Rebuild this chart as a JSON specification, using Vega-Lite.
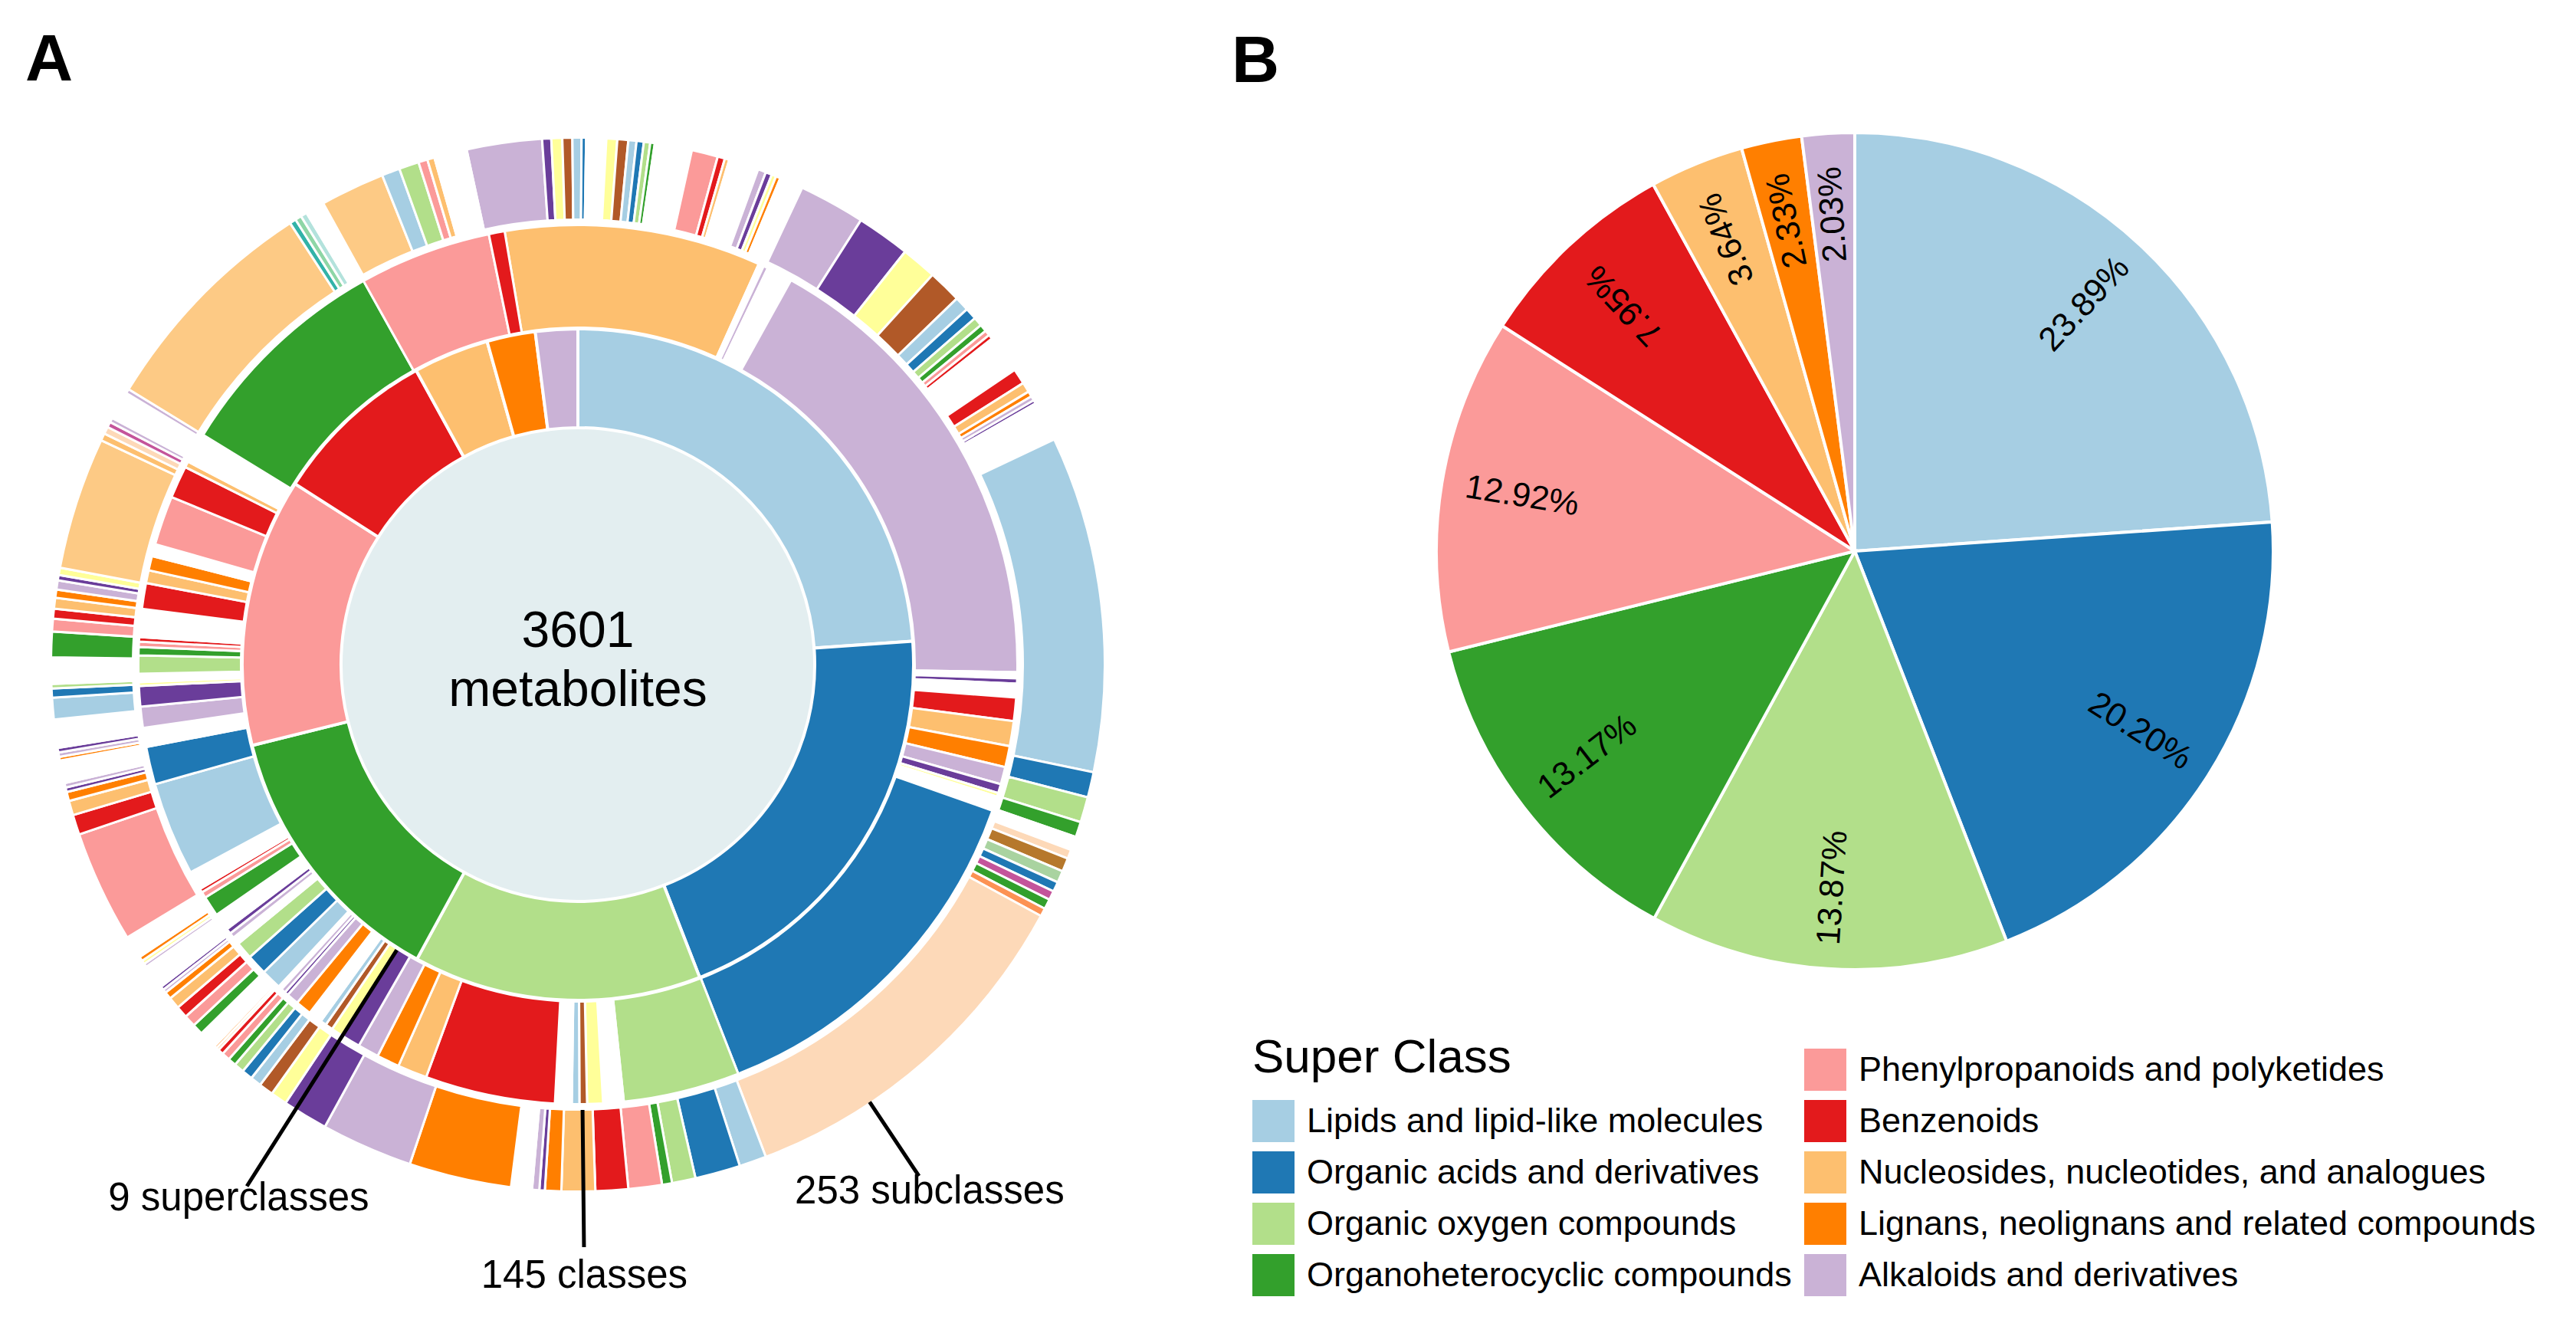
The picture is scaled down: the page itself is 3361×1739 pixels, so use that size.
{
  "$schema": "https://vega.github.io/schema/vega-lite/v6.json",
  "padding": 0,
  "spacing": 0,
  "bounds": "flush",
  "background": "white",
  "config": {"font": "Liberation Sans", "view": {"stroke": null}},
  "datasets": {
    "super": [
      {"superclass": "Lipids and lipid-like molecules", "pct": 23.89},
      {"superclass": "Organic acids and derivatives", "pct": 20.20},
      {"superclass": "Organic oxygen compounds", "pct": 13.87},
      {"superclass": "Organoheterocyclic compounds", "pct": 13.17},
      {"superclass": "Phenylpropanoids and polyketides", "pct": 12.92},
      {"superclass": "Benzenoids", "pct": 7.95},
      {"superclass": "Nucleosides, nucleotides, and analogues", "pct": 3.64},
      {"superclass": "Lignans, neolignans and related compounds", "pct": 2.33},
      {"superclass": "Alkaloids and derivatives", "pct": 2.03}
    ],
    "classes": [
      {"tone":"lorange","share":33.9},{"tone":"gap","share":0.7},{"tone":"lavender","share":0.6},{"tone":"gap","share":3.4},
      {"tone":"lavender","share":62.0},{"tone":"gap","share":0.8},{"tone":"purple","share":0.7},{"tone":"gap","share":1.8},
      {"tone":"red","share":3.1},{"tone":"lorange","share":3.3},{"tone":"orange","share":2.8},{"tone":"lavender","share":2.3},
      {"tone":"purple","share":1.2},{"tone":"yellow","share":0.5},{"tone":"gap","share":1.9},{"tone":"blue","share":49.2},
      {"tone":"lgreen","share":15.4},{"tone":"gap","share":2.7},{"tone":"yellow","share":2.1},{"tone":"brown","share":1.0},
      {"tone":"lblue","share":1.0},{"tone":"gap","share":2.2},{"tone":"red","share":17.2},{"tone":"lorange","share":3.9},
      {"tone":"orange","share":3.0},{"tone":"lavender","share":2.8},{"tone":"purple","share":2.5},{"tone":"yellow","share":1.6},
      {"tone":"brown","share":1.0},{"tone":"lblue","share":0.8},{"tone":"gap","share":1.8},{"tone":"orange","share":2.1},
      {"tone":"lavender","share":1.6},{"tone":"purple","share":0.5},{"tone":"lavender","share":0.6},{"tone":"gap","share":0.5},
      {"tone":"lblue","share":2.7},{"tone":"blue","share":2.7},{"tone":"lgreen","share":2.3},{"tone":"gap","share":1.0},
      {"tone":"lavender","share":0.7},{"tone":"purple","share":0.7},{"tone":"gap","share":2.3},{"tone":"green","share":2.7},
      {"tone":"pink","share":0.8},{"tone":"red","share":0.5},{"tone":"gap","share":2.5},{"tone":"lblue","share":12.4},
      {"tone":"blue","share":5.0},{"tone":"gap","share":2.5},{"tone":"lavender","share":2.8},{"tone":"purple","share":2.7},
      {"tone":"yellow","share":0.5},{"tone":"gap","share":1.1},{"tone":"lgreen","share":2.4},{"tone":"green","share":1.1},
      {"tone":"pink","share":0.7},{"tone":"red","share":0.6},{"tone":"gap","share":3.7},{"tone":"red","share":3.4},
      {"tone":"lorange","share":1.7},{"tone":"orange","share":1.9},{"tone":"gap","share":1.6},{"tone":"pink","share":6.5},
      {"tone":"red","share":4.3},{"tone":"lorange","share":0.8},{"tone":"gap","share":4.0},{"tone":"green","share":29.3},
      {"tone":"pink","share":17.5},{"tone":"red","share":2.1}
    ],
    "subclasses": [
      {"tone":"lavender","share":8.3},{"tone":"purple","share":1.0},{"tone":"yellow","share":1.2},{"tone":"brown","share":1.1},
      {"tone":"lblue","share":1.0},{"tone":"blue","share":0.5},{"tone":"gap","share":2.2},{"tone":"yellow","share":1.2},
      {"tone":"brown","share":1.2},{"tone":"lblue","share":0.9},{"tone":"blue","share":0.8},{"tone":"lgreen","share":0.7},
      {"tone":"green","share":0.5},{"tone":"gap","share":4.1},{"tone":"pink","share":2.9},{"tone":"red","share":0.8},
      {"tone":"lorange","share":0.5},{"tone":"gap","share":3.3},{"tone":"lavender","share":0.9},{"tone":"purple","share":0.7},
      {"tone":"yellow","share":0.5},{"tone":"orange","share":0.5},{"tone":"gap","share":2.6},{"tone":"lavender","share":7.3},
      {"tone":"purple","share":5.9},{"tone":"yellow","share":3.9},{"tone":"brown","share":3.7},{"tone":"lblue","share":1.6},
      {"tone":"blue","share":1.3},{"tone":"lgreen","share":1.0},{"tone":"green","share":0.8},{"tone":"pink","share":0.6},
      {"tone":"red","share":0.5},{"tone":"gap","share":4.2},{"tone":"red","share":1.7},{"tone":"lorange","share":1.1},
      {"tone":"orange","share":0.6},{"tone":"lavender","share":0.5},{"tone":"purple","share":0.4},{"tone":"gap","share":4.4},
      {"tone":"lblue","share":37.1},{"tone":"blue","share":2.8},{"tone":"lgreen","share":2.8},{"tone":"green","share":1.7},
      {"tone":"gap","share":1.5},{"tone":"peach","share":1.0},{"tone":"tan","share":1.5},{"tone":"sage","share":1.3},
      {"tone":"blue","share":1.1},{"tone":"magenta","share":1.0},{"tone":"green","share":1.1},{"tone":"salmon","share":0.9},
      {"tone":"peach","share":40.6},{"tone":"lblue","share":3.0},{"tone":"blue","share":5.0},{"tone":"lgreen","share":2.6},
      {"tone":"green","share":1.1},{"tone":"pink","share":3.7},{"tone":"red","share":3.6},{"tone":"lorange","share":3.7},
      {"tone":"orange","share":1.8},{"tone":"purple","share":0.6},{"tone":"lavender","share":0.8},{"tone":"gap","share":2.3},
      {"tone":"orange","share":11.3},{"tone":"lavender","share":10.1},{"tone":"purple","share":5.0},{"tone":"yellow","share":1.8},
      {"tone":"brown","share":1.6},{"tone":"lblue","share":1.2},{"tone":"blue","share":1.2},{"tone":"lgreen","share":1.1},
      {"tone":"green","share":0.9},{"tone":"pink","share":0.9},{"tone":"red","share":0.6},{"tone":"lorange","share":0.3},
      {"tone":"orange","share":0.3},{"tone":"gap","share":2.0},{"tone":"green","share":1.2},{"tone":"pink","share":1.3},
      {"tone":"red","share":1.3},{"tone":"lorange","share":1.3},{"tone":"orange","share":0.8},{"tone":"lavender","share":0.4},
      {"tone":"purple","share":0.4},{"tone":"gap","share":2.7},{"tone":"lavender","share":0.4},{"tone":"yellow","share":0.4},
      {"tone":"orange","share":0.5},{"tone":"gap","share":2.5},{"tone":"pink","share":12.4},{"tone":"red","share":2.2},
      {"tone":"lorange","share":1.6},{"tone":"orange","share":1.0},{"tone":"purple","share":0.5},{"tone":"lavender","share":0.5},
      {"tone":"gap","share":2.5},{"tone":"orange","share":0.4},{"tone":"lavender","share":0.5},{"tone":"purple","share":0.5},
      {"tone":"gap","share":3.1},{"tone":"lblue","share":2.4},{"tone":"blue","share":1.0},{"tone":"lgreen","share":0.5},
      {"tone":"gap","share":2.9},{"tone":"green","share":2.8},{"tone":"pink","share":1.4},{"tone":"red","share":1.1},
      {"tone":"lorange","share":1.2},{"tone":"orange","share":0.9},{"tone":"lavender","share":1.0},{"tone":"purple","share":0.6},
      {"tone":"yellow","share":0.8},{"tone":"apricot","share":14.6},{"tone":"lorange","share":0.8},{"tone":"peach","share":0.8},
      {"tone":"magenta","share":0.6},{"tone":"lavender","share":0.5},{"tone":"gap","share":3.1},{"tone":"lavender","share":0.5},
      {"tone":"apricot","share":25.4},{"tone":"teal","share":0.7},{"tone":"mint","share":0.7},{"tone":"lteal","share":0.7},
      {"tone":"gap","share":2.1},{"tone":"apricot","share":7.1},{"tone":"lblue","share":2.0},{"tone":"lgreen","share":2.2},
      {"tone":"pink","share":1.0},{"tone":"lorange","share":0.8},{"tone":"gap","share":3.6}
    ],
    "notes": [
      {"label": "9 superclasses", "angle": 212.4, "ring": 1},
      {"label": "145 classes", "angle": 179.4, "ring": 2},
      {"label": "253 subclasses", "angle": 146.3, "ring": 3}
    ],
    "center": [{"count": 3601, "unit": "metabolites"}]
  },
  "resolve": {"scale": {"color": "independent", "theta": "independent", "radius": "independent"}, "legend": {"color": "independent"}},
  "hconcat": [
    {
      "width": 1508,
      "height": 1734,
      "title": {"text": "A", "anchor": "start", "frame": "group", "orient": "top", "baseline": "alphabetic", "offset": -191, "dx": 33, "fontSize": 86, "fontWeight": "bold", "color": "black"},
      "resolve": {"scale": {"theta": "independent", "color": "independent", "radius": "independent"}},
      "layer": [
        {
          "data": {"name": "center"},
          "mark": {"type": "arc", "radius": 308, "theta": 0, "theta2": 6.2832, "fill": "#e3eef0"},
          "encoding": {}
        },
        {
          "data": {"name": "super"},
          "transform": [{"window": [{"op": "row_number", "as": "i"}]}],
          "mark": {"type": "arc", "radius": 438, "radius2": 309, "stroke": "white", "strokeWidth": 4},
          "encoding": {
            "theta": {"field": "pct", "type": "quantitative", "stack": true},
            "order": {"field": "i", "type": "quantitative"},
            "color": {"field": "superclass", "type": "nominal", "legend": null,
              "scale": {"domain": ["Lipids and lipid-like molecules","Organic acids and derivatives","Organic oxygen compounds","Organoheterocyclic compounds","Phenylpropanoids and polyketides","Benzenoids","Nucleosides, nucleotides, and analogues","Lignans, neolignans and related compounds","Alkaloids and derivatives"],
                        "range": ["#a6cee3","#1f78b4","#b2df8a","#33a02c","#fb9a99","#e31a1c","#fdbf6f","#ff7f00","#cab2d6"]}}
          }
        },
        {
          "data": {"name": "classes"},
          "transform": [{"window": [{"op": "row_number", "as": "i"}]}],
          "mark": {"type": "arc", "radius": 573.5, "radius2": 439.5, "stroke": "white", "strokeWidth": 3},
          "encoding": {
            "theta": {"field": "share", "type": "quantitative", "stack": true, "scale": {"range": [-0.16755, 6.11564]}},
            "order": {"field": "i", "type": "quantitative"},
            "color": {"field": "tone", "type": "nominal", "legend": null,
              "scale": {"domain": ["lblue","blue","lgreen","green","pink","red","lorange","orange","lavender","purple","yellow","brown","gap"],
                        "range": ["#a6cee3","#1f78b4","#b2df8a","#33a02c","#fb9a99","#e31a1c","#fdbf6f","#ff7f00","#cab2d6","#6a3d9a","#ffff99","#b15928","#ffffff"]}}
          }
        },
        {
          "data": {"name": "subclasses"},
          "transform": [{"window": [{"op": "row_number", "as": "i"}]}],
          "mark": {"type": "arc", "radius": 687.5, "radius2": 580.5, "stroke": "white", "strokeWidth": 3},
          "encoding": {
            "theta": {"field": "share", "type": "quantitative", "stack": true, "scale": {"range": [-0.21293, 6.07026]}},
            "order": {"field": "i", "type": "quantitative"},
            "color": {"field": "tone", "type": "nominal", "legend": null,
              "scale": {"domain": ["lblue","blue","lgreen","green","pink","red","lorange","orange","lavender","purple","yellow","brown","apricot","peach","tan","sage","magenta","salmon","teal","mint","lteal","gap"],
                        "range": ["#a6cee3","#1f78b4","#b2df8a","#33a02c","#fb9a99","#e31a1c","#fdbf6f","#ff7f00","#cab2d6","#6a3d9a","#ffff99","#b15928","#fdca85","#fdd9b8","#b6782c","#a9d3a0","#c4549b","#fc9254","#32b3a8","#8ed6a6","#b3e2dc","#ffffff"]}}
          }
        },
        {
          "data": {"name": "notes"},
          "transform": [{"calculate": "datum.ring + 3", "as": "tip"}],
          "mark": {"type": "arc", "stroke": "black", "strokeWidth": 5, "fill": "black"},
          "encoding": {
            "theta": {"field": "angle", "type": "quantitative", "scale": {"domain": [0, 360], "range": [0, 6.28319]}},
            "theta2": {"field": "angle"},
            "radius": {"field": "ring", "type": "quantitative", "scale": {"type": "linear", "zero": false, "domain": [1, 2, 3, 4, 5, 6], "range": [441, 581, 686, 806, 760, 802]}},
            "radius2": {"field": "tip"}
          }
        },
        {
          "data": {"name": "notes"},
          "mark": {"type": "text", "fontSize": 51, "baseline": "middle", "align": "center", "color": "black"},
          "encoding": {
            "theta": {"field": "angle", "type": "quantitative", "scale": {"domain": [0, 360], "range": [0, 6.28319]}},
            "radius": {"field": "ring", "type": "quantitative", "scale": {"type": "linear", "zero": false, "domain": [1, 2, 3], "range": [826, 798, 827]}},
            "text": {"field": "label", "type": "nominal"}
          }
        },
        {
          "data": {"name": "center"},
          "transform": [{"calculate": "format(datum.count, 'd') + '\\n' + datum.unit", "as": "label"}],
          "mark": {"type": "text", "fontSize": 66, "lineHeight": 76.5, "lineBreak": "\n", "baseline": "alphabetic", "dy": -23, "align": "center", "color": "black"},
          "encoding": {"text": {"field": "label", "type": "nominal"}}
        }
      ]
    },
    {
      "width": 1824,
      "height": 1438,
      "title": {"text": "B", "anchor": "start", "frame": "group", "orient": "top", "baseline": "alphabetic", "offset": -193, "dx": 99, "fontSize": 86, "fontWeight": "bold", "color": "black"},
      "data": {"name": "super"},
      "transform": [
        {"window": [{"op": "row_number", "as": "i"}, {"op": "sum", "field": "pct", "as": "cum"}], "frame": [null, 0]},
        {"joinaggregate": [{"op": "sum", "field": "pct", "as": "total"}]},
        {"calculate": "(datum.cum - datum.pct / 2) / datum.total * 360", "as": "mid"},
        {"calculate": "datum.mid < 180 || datum.mid > 300 ? datum.mid - 90 : datum.mid - 270", "as": "rot"},
        {"calculate": "format(datum.pct, '.2f') + '%'", "as": "label"}
      ],
      "encoding": {
        "theta": {"field": "pct", "type": "quantitative", "stack": true},
        "order": {"field": "i", "type": "quantitative"}
      },
      "layer": [
        {
          "mark": {"type": "arc", "radius": 546, "stroke": "white", "strokeWidth": 4},
          "encoding": {
            "color": {"field": "superclass", "type": "nominal",
              "scale": {"domain": ["_","Lipids and lipid-like molecules","Organic acids and derivatives","Organic oxygen compounds","Organoheterocyclic compounds","Phenylpropanoids and polyketides","Benzenoids","Nucleosides, nucleotides, and analogues","Lignans, neolignans and related compounds","Alkaloids and derivatives"],
                        "range": ["#ffffff","#a6cee3","#1f78b4","#b2df8a","#33a02c","#fb9a99","#e31a1c","#fdbf6f","#ff7f00","#cab2d6"]},
              "legend": {"orient": "none", "legendX": 126, "legendY": 1350, "title": "Super Class", "titleFontSize": 62, "titleFontWeight": "normal", "titleColor": "black", "titleLimit": 2000, "titlePadding": -44, "titleAnchor": "start", "titleBaseline": "top",
                         "columns": 2, "columnPadding": 16, "rowPadding": 12, "symbolType": "square", "symbolSize": 3025, "symbolStrokeWidth": 0, "symbolOpacity": 1,
                         "labelFontSize": 45, "labelColor": "black", "labelOffset": 16, "labelLimit": 2000, "labelExpr": "datum.label == '_' ? '' : datum.label", "padding": 0}}
          }
        },
        {
          "mark": {"type": "text", "radius": 440, "fontSize": 44, "color": "black"},
          "encoding": {
            "detail": {"field": "superclass", "type": "nominal"},
            "text": {"field": "label", "type": "nominal"},
            "angle": {"field": "rot", "type": "quantitative", "scale": null}
          }
        }
      ]
    }
  ]
}
